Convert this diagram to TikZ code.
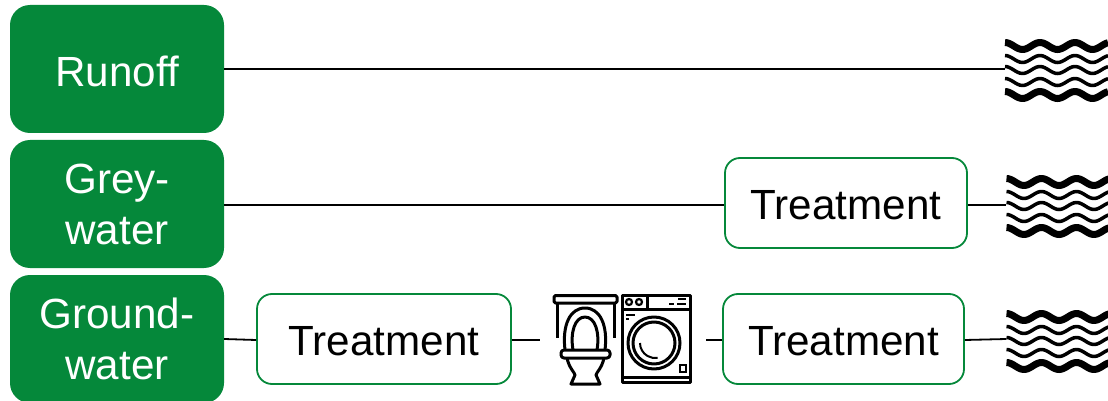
\documentclass[tikz,border=0pt]{standalone}
\usepackage{fontspec}
\setmainfont{Liberation Sans}
\usepackage{xcolor}
\definecolor{sourcegreen}{HTML}{05883A}
\usetikzlibrary{positioning}
\tikzset{
  waves/.pic={
    \foreach \dy/\lw in {-23/7,-10/3.5,1/3.5,13/3.5,26/7}{
      \draw[line width=\lw pt] plot[smooth,samples=50,domain=0:103]
        ({\x-51.5},{\dy-3.5*cos(\x/35*360)});
    }
  }
}
\begin{document}
\begin{tikzpicture}[
  x=1pt, y=-1pt,
  source/.style={fill=sourcegreen, draw=none, rounded corners=20pt, text=white, align=center,
    minimum width=214pt, minimum height=128pt, inner sep=0pt, font=\fontsize{42.2}{51}\selectfont,
    execute at begin node=\rule{0pt}{35.6pt}},
  treatment/.style={draw=sourcegreen, fill=white, line width=1.8pt, rounded corners=15pt,
    minimum height=90pt, inner sep=0pt, font=\fontsize{42.2}{50}\selectfont,
    execute at begin node=\rule{0pt}{34.2pt}},
  waterbox/.style={draw=none, minimum width=103pt, minimum height=62pt, inner sep=0pt},
  pipe/.style={draw=black, line width=1.8pt},
  icon/.style={line width=3pt, line join=round},
]
\useasboundingbox (0,0) rectangle (1108,401);

\node[source] (runoff) at (117,69) {Runoff};
\node[source] (grey) at (117,204) {Grey-\\water};
\node[source] (ground) at (117,339) {Ground-\\water};

\node[treatment, minimum width=242pt] (treatB) at (846,203) {Treatment};
\node[treatment, minimum width=254pt] (treatA) at (384,339) {Treatment};
\node[treatment, minimum width=241pt] (treatC) at (843.5,339) {Treatment};

\node[waterbox] (waterA) at (1056.5,69) {};
\node[waterbox] (waterB) at (1058,205) {};
\node[waterbox] (waterC) at (1058,340) {};
\pic at (waterA.center) {waves};
\pic at (waterB.center) {waves};
\pic at (waterC.center) {waves};

\coordinate (toiletin) at (540,340);
\coordinate (washerout) at (706,340);

% toilet
\draw[icon, rounded corners=1.5pt] (554,295.5) rectangle (617,303);
\draw[icon] (557,303) -- (557,338) (614,303) -- (614,338);
\draw[icon, fill=white] (565,350) .. controls (562,325) and (570,308) .. (585,308)
  .. controls (600,308) and (608,325) .. (605,350);
\draw[icon] (573,350) .. controls (570,332) and (575,317) .. (585,317)
  .. controls (595,317) and (600,332) .. (597,350);
\draw[icon, rounded corners=3pt, fill=white] (561,350) rectangle (610,358);
\draw[icon] (567,358) .. controls (569,368) and (575,373) .. (575,375) -- (571,384) -- (600,384)
  -- (596,375) .. controls (596,373) and (602,368) .. (604,358);

% washing machine
\draw[icon] (622,295) rectangle (690,382);
\draw[icon] (622,309) -- (690,309) (647,295) -- (647,309) (622,377) -- (690,377);
\draw[line width=2.2pt] (629,302) circle (3) (639,302) circle (3);
\draw[line width=2.4pt] (669,304) -- (674,304) (677,304) -- (686,304) (678,299) -- (686,299);
\draw[line width=2.4pt] (626,315) -- (635,315) (626,319) -- (629,319);
\draw[icon] (654,343) circle (26) (654,343) circle (21);
\draw[line width=2pt] (640,343) arc[start angle=180, end angle=80, radius=15];
\draw[line width=2.4pt] (680,365) rectangle (686,372);

\draw[pipe] (runoff.east) -- (waterA.west);
\draw[pipe] ([yshift=-1pt]grey.east) -- ([yshift=-2pt]treatB.west);
\draw[pipe] ([yshift=-2pt]treatB.east) -- (waterB.west);
\draw[pipe] (ground.east) -- ([yshift=-1pt]treatA.west);
\draw[pipe] ([yshift=-1pt]treatA.east) -- (toiletin);
\draw[pipe] (washerout) -- ([yshift=-1pt]treatC.west);
\draw[pipe] ([yshift=-1pt]treatC.east) -- ([yshift=1pt]waterC.west);
\end{tikzpicture}
\end{document}
